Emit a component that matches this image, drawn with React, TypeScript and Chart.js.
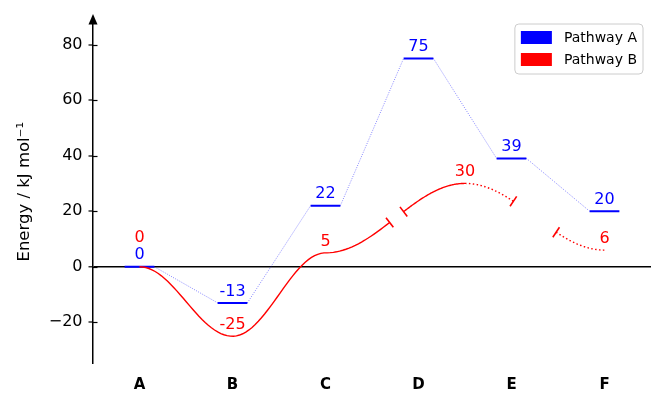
import React, { useEffect, useRef } from 'react';
import { Chart, registerables } from 'chart.js';

Chart.register(...registerables);

// ---- data ----
const categories = ['A', 'B', 'C', 'D', 'E', 'F'];
const pathwayA = [0, -13, 22, 75, 39, 20];
const pathwayBX = [0, 1, 2, 3.5, 5];
const pathwayBY = [0, -25, 5, 30, 6];
const pathwayBGaps = [[2.69, 2.84], [4.02, 4.48]];
const pathwayBDottedFrom = 3.5;
const yTicks = [-20, 0, 20, 40, 60, 80];
const seriesNames = ['Pathway A', 'Pathway B'];
const yLabel = 'Energy / kJ mol\u207B\u00B9';

const FONT = "'DejaVu Sans', sans-serif";
const BLUE = '#0000ff';
const RED = '#ff0000';
const LEVEL_HALF = 0.16;

function cosInterp(xs: number[], ys: number[], x: number): number {
  let i = 0;
  while (i < xs.length - 2 && x > xs[i + 1]) i++;
  const t = (x - xs[i]) / (xs[i + 1] - xs[i]);
  return ys[i] + (ys[i + 1] - ys[i]) * (1 - Math.cos(Math.PI * t)) / 2;
}

const decorPlugin = {
  id: 'energyDecor',
  afterDatasetsDraw(chart: any) {
    const ctx = chart.ctx;
    const xs = chart.scales.x;
    const ys = chart.scales.y;
    const area = chart.chartArea;
    const px = (v: number) => xs.getPixelForValue(v);
    const py = (v: number) => ys.getPixelForValue(v);

    // --- pathway B curve pieces ---
    const segs: number[][] = [];
    let cur = pathwayBX[0];
    for (const [g0, g1] of pathwayBGaps) {
      segs.push([cur, g0]);
      cur = g1;
    }
    segs.push([cur, pathwayBX[pathwayBX.length - 1]]);
    const pieces: [number, number, boolean][] = [];
    for (const [a, b] of segs) {
      if (b <= pathwayBDottedFrom) pieces.push([a, b, false]);
      else if (a >= pathwayBDottedFrom) pieces.push([a, b, true]);
      else {
        pieces.push([a, pathwayBDottedFrom, false]);
        pieces.push([pathwayBDottedFrom, b, true]);
      }
    }
    ctx.save();
    ctx.strokeStyle = RED;
    ctx.lineWidth = 1.4;
    ctx.lineCap = 'butt';
    for (const [a, b, dotted] of pieces) {
      ctx.setLineDash(dotted ? [1.5, 2.4] : []);
      ctx.beginPath();
      const n = 80;
      for (let k = 0; k <= n; k++) {
        const x = a + (b - a) * (k / n);
        const X = px(x);
        const Y = py(cosInterp(pathwayBX, pathwayBY, x));
        if (k === 0) ctx.moveTo(X, Y);
        else ctx.lineTo(X, Y);
      }
      ctx.stroke();
    }
    // break ticks
    ctx.setLineDash([]);
    ctx.lineWidth = 1.6;
    for (const gap of pathwayBGaps) {
      for (const g of gap) {
        const X = px(g);
        const Y = py(cosInterp(pathwayBX, pathwayBY, g));
        const X2 = px(g + 0.01);
        const Y2 = py(cosInterp(pathwayBX, pathwayBY, g + 0.01));
        let dx = X2 - X, dy = Y2 - Y;
        const len = Math.hypot(dx, dy);
        dx /= len; dy /= len;
        const nx = -dy, ny = dx;
        ctx.beginPath();
        ctx.moveTo(X - nx * 6, Y - ny * 6);
        ctx.lineTo(X + nx * 6, Y + ny * 6);
        ctx.stroke();
      }
    }

    // --- value labels ---
    ctx.font = `16px ${FONT}`;
    ctx.textAlign = 'center';
    ctx.textBaseline = 'middle';
    ctx.fillStyle = BLUE;
    pathwayA.forEach((v, i) => {
      ctx.fillText(v < 0 ? '-' + Math.abs(v) : String(v), px(i), py(v) - 11.5);
    });
    ctx.fillStyle = RED;
    pathwayBX.forEach((x, j) => {
      const v = pathwayBY[j];
      const clash = Number.isInteger(x) && pathwayA[x] === v;
      ctx.fillText(v < 0 ? '-' + Math.abs(v) : String(v), px(x), py(v) - (clash ? 28.5 : 11.5));
    });

    // --- inner half of y ticks (inout) ---
    ctx.strokeStyle = '#000';
    ctx.lineWidth = 1.2;
    for (const t of yTicks) {
      const Y = Math.round(py(t)) + 0.5;
      ctx.beginPath();
      ctx.moveTo(area.left, Y);
      ctx.lineTo(area.left + 4.5, Y);
      ctx.stroke();
    }

    // --- arrow at top of y axis ---
    ctx.fillStyle = '#000';
    ctx.beginPath();
    ctx.moveTo(area.left, area.top - 5.5);
    ctx.lineTo(area.left - 4.5, area.top + 5);
    ctx.lineTo(area.left + 4.5, area.top + 5);
    ctx.closePath();
    ctx.fill();
    ctx.restore();
  },
  afterDraw(chart: any) {
    const ctx = chart.ctx;
    const area = chart.chartArea;
    const colors = [BLUE, RED];
    ctx.save();
    ctx.font = `14px ${FONT}`;
    const textW = Math.max(...seriesNames.map((s) => ctx.measureText(s).width));
    const patchW = 31, patchH = 13, gap = 12, padX = 6, rowH = 22;
    const w = padX + patchW + gap + textW + padX;
    const h = 7 + rowH * (seriesNames.length - 1) + patchH + 8;
    const right = area.right - 8;
    const left = right - w;
    const top = area.top + 4.5;
    // frame
    const r = 4;
    ctx.beginPath();
    ctx.moveTo(left + r, top);
    ctx.lineTo(left + w - r, top);
    ctx.arcTo(left + w, top, left + w, top + r, r);
    ctx.lineTo(left + w, top + h - r);
    ctx.arcTo(left + w, top + h, left + w - r, top + h, r);
    ctx.lineTo(left + r, top + h);
    ctx.arcTo(left, top + h, left, top + h - r, r);
    ctx.lineTo(left, top + r);
    ctx.arcTo(left, top, left + r, top, r);
    ctx.closePath();
    ctx.fillStyle = 'rgba(255,255,255,0.8)';
    ctx.fill();
    ctx.strokeStyle = '#cccccc';
    ctx.lineWidth = 1;
    ctx.stroke();
    seriesNames.forEach((name, i) => {
      const y0 = top + 7 + i * rowH;
      ctx.fillStyle = colors[i];
      ctx.fillRect(left + padX, y0, patchW, patchH);
      ctx.fillStyle = '#000';
      ctx.textAlign = 'left';
      ctx.textBaseline = 'middle';
      ctx.fillText(name, left + padX + patchW + gap, y0 + patchH / 2 + 0.5);
    });
    ctx.restore();
  },
};

export default function App() {
  const canvasRef = useRef<HTMLCanvasElement | null>(null);

  useEffect(() => {
    const canvas = canvasRef.current;
    if (!canvas) return;
    const chart = new Chart(canvas, {
      type: 'line',
      data: {
        datasets: [
          {
            label: seriesNames[0],
            data: pathwayA.flatMap((v, i) => [
              { x: i - LEVEL_HALF, y: v },
              { x: i + LEVEL_HALF, y: v },
            ]),
            borderColor: BLUE,
            backgroundColor: BLUE,
            borderWidth: 2,
            pointRadius: 0,
            tension: 0,
            borderCapStyle: 'butt',
            segment: {
              borderColor: (c: any) => (c.p0DataIndex % 2 === 0 ? BLUE : 'rgba(0,0,255,0.6)'),
              borderWidth: (c: any) => (c.p0DataIndex % 2 === 0 ? 2 : 0.8),
              borderDash: (c: any) => (c.p0DataIndex % 2 === 0 ? [] : [1, 1.4]),
            },
          } as any,
          {
            label: seriesNames[1],
            data: pathwayBX.map((x, i) => ({ x, y: pathwayBY[i] })),
            borderColor: RED,
            backgroundColor: RED,
            showLine: false,
            pointRadius: 0,
          } as any,
        ],
      },
      options: {
        responsive: false,
        animation: false,
        events: [],
        layout: { padding: { top: 19.5, right: 15, left: 0, bottom: 0 } },
        plugins: {
          legend: { display: false },
          tooltip: { enabled: false },
        },
        scales: {
          x: {
            type: 'linear',
            min: -0.5,
            max: 5.5,
            afterBuildTicks: (s: any) => {
              s.ticks = categories.map((_, i) => ({ value: i }));
            },
            afterFit: (s: any) => {
              s.height = 44;
            },
            grid: { display: false, drawTicks: false },
            border: { display: false },
            ticks: {
              autoSkip: false,
              maxRotation: 0,
              padding: 12.5,
              color: '#000',
              font: { family: FONT, size: 15, weight: 'bold' },
              callback: (v: any) => categories[v] ?? '',
            },
          },
          y: {
            type: 'linear',
            min: -35,
            max: 89,
            afterBuildTicks: (s: any) => {
              s.ticks = yTicks.map((v) => ({ value: v }));
            },
            afterFit: (s: any) => {
              s.width = 93;
            },
            grid: {
              drawOnChartArea: true,
              color: (c: any) => (c.tick && c.tick.value === 0 ? '#000' : 'rgba(0,0,0,0)'),
              lineWidth: (c: any) => (c.tick && c.tick.value === 0 ? 1.6 : 0),
              tickColor: '#000',
              tickLength: 4.5,
              tickWidth: 1.2,
            },
            border: { display: true, color: '#000', width: 1.5 },
            ticks: {
              padding: 6,
              color: '#000',
              font: { family: FONT, size: 16 },
              callback: (v: any) => (v < 0 ? '\u2212' + Math.abs(v) : String(v)),
            },
            title: {
              display: true,
              text: yLabel,
              color: '#000',
              font: { family: FONT, size: 16.5 },
              padding: { top: 15, bottom: 0 },
            },
          },
        },
      } as any,
      plugins: [decorPlugin],
    });
    return () => chart.destroy();
  }, []);

  return (
    <div style={{ position: 'absolute', left: 0, top: 0, width: 666, height: 408 }}>
      <canvas ref={canvasRef} width={666} height={408} style={{ display: 'block' }} />
    </div>
  );
}
